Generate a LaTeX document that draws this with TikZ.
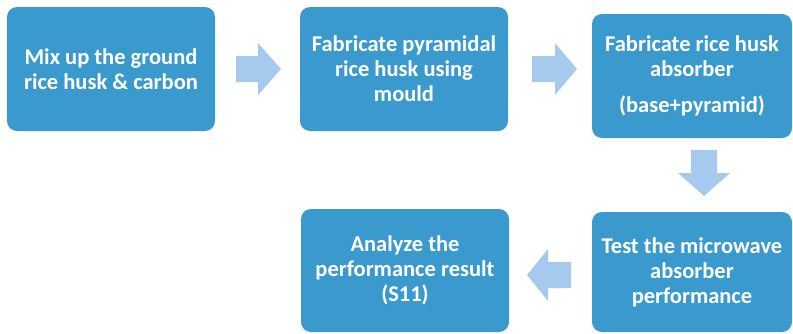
\documentclass[tikz,border=0pt]{standalone}
\usepackage{fontspec}
\setmainfont{Carlito}
\definecolor{boxblue}{RGB}{58,154,206}
\definecolor{arrblue}{RGB}{166,202,238}
\begin{document}
\begin{tikzpicture}[x=1pt,y=-1pt,
  box/.style={fill=boxblue, draw=none, rounded corners=10pt, text=white,
    font=\bfseries\fontsize{22.5}{25}\selectfont, align=center, inner sep=0pt},
  blockarrow/.style={fill=arrblue, draw=none}]
\useasboundingbox (0,0) rectangle (793,333);
\node[box, minimum width=208pt, minimum height=124pt] (b1) at (111,69) {Mix up the ground\\rice husk \& carbon};
\node[box, minimum width=208pt, minimum height=124pt] (b2) at (404,69) {Fabricate pyramidal\\rice husk using\\mould};
\node[box, minimum width=200pt, minimum height=124pt] (b3) at (692,76) {Fabricate rice husk\\absorber\\[11pt](base+pyramid)};
\node[box, minimum width=200pt, minimum height=120pt] (b4) at (692,272) {Test the microwave\\absorber\\performance};
\node[box, minimum width=208pt, minimum height=123pt] (b5) at (405,270.5) {Analyze the\\performance result\\(S11)};
% block arrows
\fill[blockarrow] (236,56) -- (258,56) -- (258,43) -- (281,69) -- (258,95) -- (258,82) -- (236,82) -- cycle;
\fill[blockarrow] (532,56) -- (555,56) -- (555,43) -- (577,69) -- (555,95) -- (555,82) -- (532,82) -- cycle;
\fill[blockarrow] (691,150) -- (691,173) -- (678,173) -- (704,196) -- (730,173) -- (717,173) -- (717,150) -- cycle;
\fill[blockarrow] (571,262) -- (548,262) -- (548,249) -- (527,275) -- (548,301) -- (548,288) -- (571,288) -- cycle;
\end{tikzpicture}
\end{document}
